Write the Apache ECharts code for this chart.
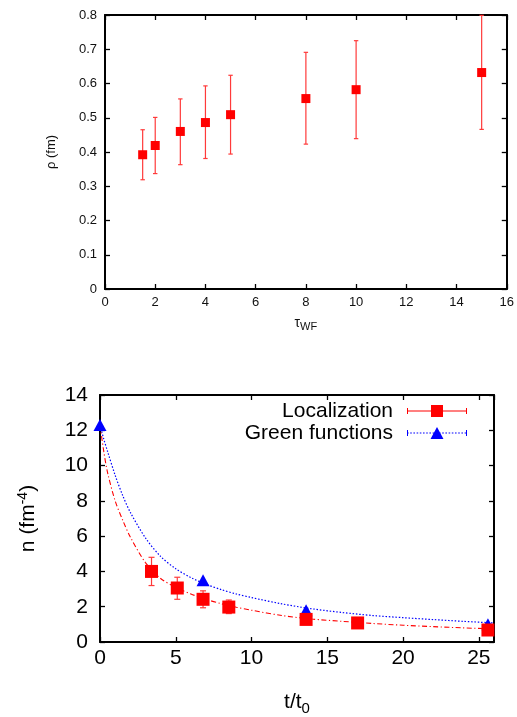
<!DOCTYPE html>
<html>
<head>
<meta charset="utf-8">
<script src="https://cdn.jsdelivr.net/npm/echarts@6/dist/echarts.min.js"></script>
<style>html,body{margin:0;padding:0;background:#fff;}#c{width:517px;height:717px;}</style>
</head>
<body>
<div id="c"></div>
<script>
// ---- top panel data: rho vs tau_WF ----
const tauWF = [1.5, 2, 3, 4, 5, 8, 10, 15];
const rho = [0.392, 0.419, 0.460, 0.486, 0.509, 0.556, 0.582, 0.632];
const rhoLow = [0.319, 0.337, 0.363, 0.381, 0.394, 0.423, 0.439, 0.466];
const rhoHigh = [0.465, 0.501, 0.555, 0.593, 0.624, 0.691, 0.725, 0.799];
const topXTicks = [0, 16, 2];
const topYTicks = [0, 0.8, 0.1];

// ---- bottom panel data: n vs t/t0 ----
const locT = [3.4, 5.1, 6.8, 8.5, 13.6, 17.0, 25.6];
const locN = [4.0, 3.06, 2.42, 1.98, 1.28, 1.08, 0.68];
const locLow = [3.2, 2.42, 1.94, 1.61, 1.13, 0.95, 0.58];
const locHigh = [4.8, 3.67, 2.9, 2.38, 1.43, 1.21, 0.78];
const gfT = [0, 6.8, 13.6, 25.6];
const gfN = [12.3, 3.5, 1.8, 1.0];
const fitT = [0, 0.25, 0.5, 1, 1.5, 2, 3, 4, 5, 6, 7, 8, 9, 10, 12, 14, 16, 18, 20, 22, 24, 26];
const locFit = [12.3, 10.8, 9.6, 8.0, 6.9, 5.95, 4.5, 3.6, 3.1, 2.72, 2.42, 2.17, 1.97, 1.8, 1.5, 1.3, 1.17, 1.05, 0.95, 0.87, 0.8, 0.74];
const gfFit = [12.3, 11.5, 10.8, 9.45, 8.3, 7.35, 5.9, 4.85, 4.15, 3.65, 3.27, 2.97, 2.72, 2.52, 2.16, 1.88, 1.67, 1.5, 1.38, 1.27, 1.17, 1.08];
const botXTicks = [0, 26, 5];
const botYTicks = [0, 14, 2];
const legendNames = ['Localization', 'Green functions'];

const FONT = 'Liberation Sans, Arial, Helvetica, sans-serif';
const RED = '#ff0000', BLUE = '#0000ff', ERR = '#ff3a3a';

function zip(a, b) { return a.map((v, i) => [v, b[i]]); }
function zip3(a, b, c) { return a.map((v, i) => [v, b[i], c[i]]); }

function errRender(capHalf, lw) {
  return function (params, api) {
    const x = api.value(0), lo = api.value(1), hi = api.value(2);
    const pHi = api.coord([x, hi]), pLo = api.coord([x, lo]);
    const st = { stroke: ERR, lineWidth: lw };
    return { type: 'group', children: [
      { type: 'line', shape: { x1: pHi[0], y1: pHi[1], x2: pLo[0], y2: pLo[1] }, style: st },
      { type: 'line', shape: { x1: pHi[0] - capHalf, y1: pHi[1], x2: pHi[0] + capHalf, y2: pHi[1] }, style: st },
      { type: 'line', shape: { x1: pLo[0] - capHalf, y1: pLo[1], x2: pLo[0] + capHalf, y2: pLo[1] }, style: st }
    ]};
  };
}

function axisPair(kind, grid, ticks, labelOpts, extra) {
  const base = {
    type: 'value', gridIndex: grid, min: ticks[0], max: ticks[1], interval: ticks[2],
    splitLine: { show: false },
    axisLine: { show: true, onZero: false, lineStyle: { color: '#000', width: 2 } },
    axisTick: { show: true, inside: true, length: 5, lineStyle: { color: '#000', width: 1.3 } }
  };
  const main = Object.assign({}, base, { position: kind === 'x' ? 'bottom' : 'left', axisLabel: labelOpts }, extra || {});
  const mirror = Object.assign({}, base, { position: kind === 'x' ? 'top' : 'right', axisLabel: { show: false } });
  return [main, mirror];
}

// legend icon paths (60 x 12 box)
const locIcon = 'path://M0 5.5 h60 v1 h-60 Z M0 3 h1 v6 h-1 Z M59 3 h1 v6 h-1 Z M24 0 h12 v12 h-12 Z';
let dots = '';
for (let i = 0; i < 60; i += 3.2) dots += 'M' + i.toFixed(1) + ' 5.5 h1.6 v1 h-1.6 Z ';
const gfIcon = 'path://' + dots + 'M0 3 h1 v6 h-1 Z M59 3 h1 v6 h-1 Z M30 0 L36.5 12 L23.5 12 Z';

const topX = axisPair('x', 0, topXTicks, { fontSize: 13, color: '#111', fontFamily: FONT, margin: 7 }, {
  name: '{t|τ}{s|WF}', nameLocation: 'middle', nameGap: 25,
  nameTextStyle: { rich: { t: { fontSize: 14, lineHeight: 18, fontFamily: FONT, color: '#111' }, s: { fontSize: 11, lineHeight: 10, verticalAlign: 'bottom', fontFamily: FONT, color: '#111' } } }
});
const topY = axisPair('y', 0, topYTicks, { fontSize: 13, color: '#111', fontFamily: FONT, margin: 8 }, {
  name: 'ρ (fm)', nameLocation: 'middle', nameGap: 47, nameRotate: 90,
  nameTextStyle: { fontSize: 13, fontFamily: FONT, color: '#111' }
});
const botX = axisPair('x', 1, botXTicks, { fontSize: 21, color: '#000', fontFamily: FONT, margin: 6, showMaxLabel: false }, {
  name: '{t|t/t}{s|0}', nameLocation: 'middle', nameGap: 46,
  nameTextStyle: { rich: { t: { fontSize: 21, lineHeight: 28, fontFamily: FONT, color: '#000' }, s: { fontSize: 15, lineHeight: 10, verticalAlign: 'bottom', fontFamily: FONT, color: '#000' } } }
});
const botY = axisPair('y', 1, botYTicks, { fontSize: 21, color: '#000', fontFamily: FONT, margin: 12 }, {
  name: '{t|n (fm}{s|-4}{t|)}', nameLocation: 'middle', nameGap: 60, nameRotate: 90,
  nameTextStyle: { rich: { t: { fontSize: 21, lineHeight: 24, fontFamily: FONT, color: '#000' }, s: { fontSize: 14, lineHeight: 12, verticalAlign: 'top', fontFamily: FONT, color: '#000' } } }
});

const option = {
  animation: false,
  backgroundColor: '#fff',
  grid: [
    { left: 105, top: 15, width: 402, height: 274 },
    { left: 100, top: 395, width: 394, height: 254 }
  ],
  xAxis: [topX[0], topX[1], botX[0], botX[1]],
  yAxis: [topY[0], topY[1], botY[0], botY[1]],
  legend: {
    orient: 'vertical', align: 'right', right: 50, top: 400, padding: 0, itemGap: 0,
    itemWidth: 60, itemHeight: 12, selectedMode: false,
    textStyle: { fontSize: 21, lineHeight: 22, fontFamily: FONT, color: '#000', padding: [0, 9, 0, 0] },
    data: [
      { name: legendNames[0], icon: locIcon, itemStyle: { color: RED, opacity: 1 } },
      { name: legendNames[1], icon: gfIcon, itemStyle: { color: BLUE, opacity: 1 } }
    ]
  },
  series: [
    { type: 'custom', xAxisIndex: 0, yAxisIndex: 0, renderItem: errRender(2.2, 1.2),
      data: zip3(tauWF, rhoLow, rhoHigh), encode: { x: 0, y: [1, 2] }, z: 2, clip: false },
    { type: 'scatter', xAxisIndex: 0, yAxisIndex: 0, symbol: 'rect', symbolSize: 9,
      itemStyle: { color: RED, opacity: 1 }, data: zip(tauWF, rho), z: 3 },

    { type: 'line', xAxisIndex: 2, yAxisIndex: 2, data: zip(fitT, gfFit), smooth: 0.3, showSymbol: false,
      lineStyle: { color: BLUE, width: 1.2, type: [1.5, 1.8] }, z: 1 },
    { type: 'line', xAxisIndex: 2, yAxisIndex: 2, data: zip(fitT, locFit), smooth: 0.3, showSymbol: false,
      lineStyle: { color: RED, width: 1.1, type: [5, 2.5, 1.2, 2.5] }, z: 1 },
    { type: 'custom', xAxisIndex: 2, yAxisIndex: 2, renderItem: errRender(3, 1.2),
      data: zip3(locT, locLow, locHigh), encode: { x: 0, y: [1, 2] }, z: 2 },
    { name: legendNames[1], type: 'scatter', xAxisIndex: 2, yAxisIndex: 2, symbol: 'triangle', symbolSize: [13, 12],
      itemStyle: { color: BLUE, opacity: 1 }, data: zip(gfT, gfN), z: 3, clip: false },
    { name: legendNames[0], type: 'scatter', xAxisIndex: 2, yAxisIndex: 2, symbol: 'rect', symbolSize: 13,
      itemStyle: { color: RED, opacity: 1 }, data: zip(locT, locN), z: 4, clip: false }
  ]
};

const chart = echarts.init(document.getElementById('c'), null, { renderer: 'canvas' });
chart.setOption(option);
</script>
</body>
</html>
